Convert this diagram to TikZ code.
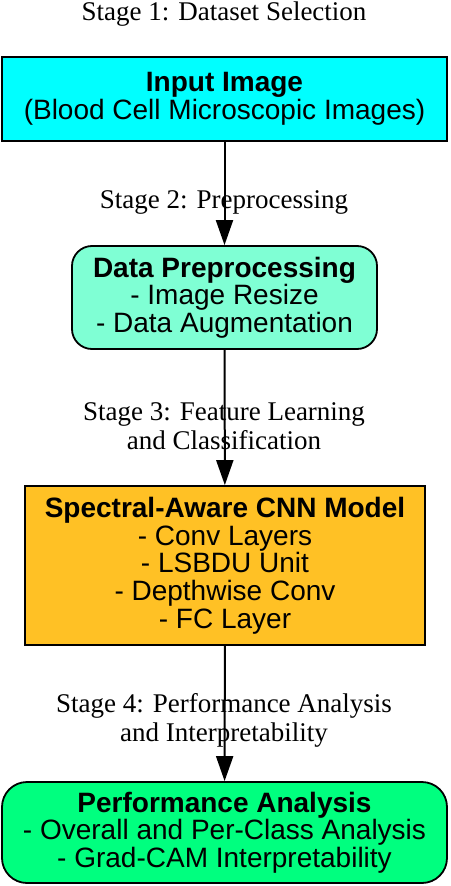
\documentclass[tikz,border=0pt]{standalone}
\usepackage{fontspec}
\setmainfont{Liberation Serif}
\setsansfont{Liberation Sans}
\usepackage{xcolor}
\usepackage{tikz}
\usetikzlibrary{arrows.meta}
\definecolor{inputcyan}{HTML}{00FFFF}
\definecolor{prepaqua}{HTML}{7FFFD4}
\definecolor{cnngold}{HTML}{FFC125}
\definecolor{perfgreen}{HTML}{00FF7F}

\begin{document}
\begin{tikzpicture}[x=1pt,y=-1pt,
  stage/.style={font=\fontsize{27}{29}\selectfont,align=center,inner sep=0pt},
  blk/.style={draw=black,line width=1.8pt,font=\sffamily\fontsize{28}{27.7}\selectfont,align=center,inner sep=0pt},
  flow/.style={-{Triangle[length=25pt,width=17pt]},line width=2pt}
]
\useasboundingbox (0,0) rectangle (450,886);
\node[stage] (s1) at (224,14) {Stage 1: Dataset Selection};
\node[blk,fill=inputcyan,minimum width=445pt,minimum height=84pt] (input) at (224.5,99) {\textbf{Input Image}\\(Blood Cell Microscopic Images)};
\node[stage] (s2) at (224,202) {Stage 2: Preprocessing};
\node[blk,fill=prepaqua,rounded corners=20pt,minimum width=305pt,minimum height=103pt] (prep) at (224.5,297.5) {\textbf{Data Preprocessing}\\- Image Resize\\- Data Augmentation};
\node[stage] (s3) at (224,426) {Stage 3: Feature Learning\\and Classification};
\node[blk,fill=cnngold,minimum width=400pt,minimum height=159pt] (cnn) at (225,565.5) {\textbf{Spectral-Aware CNN Model}\\- Conv Layers\\- LSBDU Unit\\- Depthwise Conv\\- FC Layer};
\node[stage] (s4) at (224,720) {Stage 4: Performance Analysis\\and Interpretability};
\node[blk,fill=perfgreen,rounded corners=25pt,minimum width=445pt,minimum height=101pt] (perf) at (224.5,832.5) {\textbf{Performance Analysis}\\- Overall and Per-Class Analysis\\- Grad-CAM Interpretability};
% arrows over the stage labels
\draw[flow] (input) -- (prep);
\draw[flow] (prep) -- (cnn);
\draw[flow] (cnn) -- (perf);
\end{tikzpicture}
\end{document}
